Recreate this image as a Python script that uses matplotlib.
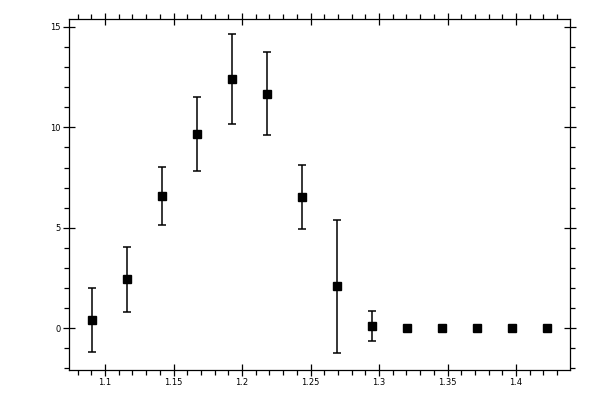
import matplotlib
matplotlib.use('Agg')
import matplotlib.pyplot as plt
from matplotlib.ticker import MultipleLocator

# bin centres and measured values
x_vals = [1.0907, 1.1162, 1.1417, 1.1672, 1.1927, 1.2182, 1.2437,
          1.2692, 1.2950, 1.3205, 1.3460, 1.3715, 1.3970, 1.4225]
y_vals = [0.41, 2.44, 6.59, 9.67, 12.41, 11.67, 6.53,
          2.09, 0.11, 0.0, 0.0, 0.0, 0.0, 0.0]
y_err = [1.57, 1.62, 1.45, 1.82, 2.22, 2.06, 1.6,
         3.3, 0.73, 0, 0, 0, 0, 0]

x_major = [1.1, 1.15, 1.2, 1.25, 1.3, 1.35, 1.4]
x_labels = ['1.1', '1.15', '1.2', '1.25', '1.3', '1.35', '1.4']
y_major = [0, 5, 10, 15]
y_labels = ['0', '5', '10', '15']

fig = plt.figure(figsize=(6, 4), dpi=100)
ax = fig.add_axes([69 / 600, 1 - 370 / 400, 501 / 600, 350.7 / 400])

# points with error bars first, then the ones without
has_err = [e > 0 for e in y_err]
xe = [x for x, h in zip(x_vals, has_err) if h]
ye = [y for y, h in zip(y_vals, has_err) if h]
ee = [e for e, h in zip(y_err, has_err) if h]
ax.errorbar(xe, ye, yerr=ee, fmt='s', color='black', ms=5.8,
            elinewidth=1.1, capsize=2.6, capthick=1.1)
xn = [x for x, h in zip(x_vals, has_err) if not h]
yn = [y for y, h in zip(y_vals, has_err) if not h]
ax.plot(xn, yn, 's', color='black', ms=5.8)

ax.set_xlim(1.0737, 1.4394)
ax.set_ylim(-2.08, 15.38)

ax.set_xticks(x_major)
ax.set_xticklabels(x_labels)
ax.set_yticks(y_major)
ax.set_yticklabels(y_labels)
ax.xaxis.set_minor_locator(MultipleLocator(0.01))
ax.yaxis.set_minor_locator(MultipleLocator(1))

ax.tick_params(which='both', top=True, right=True, labelsize=6,
               width=0.9, color='black')
ax.tick_params(which='major', direction='inout', length=8, pad=2)
ax.tick_params(which='minor', direction='out', length=3.5)

for s in ax.spines.values():
    s.set_linewidth(0.9)

fig.savefig('out.png', dpi=100)
